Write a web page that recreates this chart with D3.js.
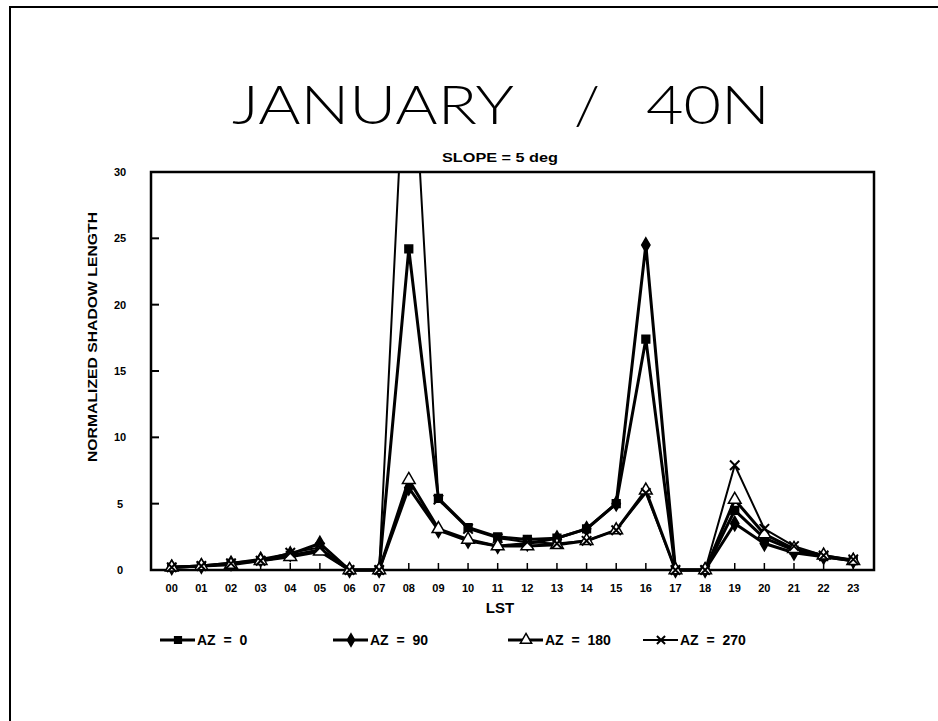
<!DOCTYPE html>
<html>
<head>
<meta charset="utf-8">
<script src="https://cdn.jsdelivr.net/npm/d3@7"></script>
<style>
  body { margin: 0; background: #fff; }
  text { font-family: "Liberation Sans", Arial, sans-serif; fill: #000; }
</style>
</head>
<body>
<div id="chart"></div>
<script>
// hours (LST) and normalized shadow length per slope azimuth
const hours = ['00', '01', '02', '03', '04', '05', '06', '07', '08', '09', '10', '11',
    '12', '13', '14', '15', '16', '17', '18', '19', '20', '21', '22', '23'];

const az0 = [0.2, 0.3, 0.5, 0.7, 1.1, 1.5, 0, 0, 24.2, 5.4, 3.2, 2.5,
    2.3, 2.4, 3.1, 5.0, 17.4, 0, 0, 4.5, 2.4, 1.5, 1.0, 0.7];
const az90 = [0.2, 0.3, 0.5, 0.8, 1.2, 2.0, 0, 0, 6.2, 3.0, 2.2, 1.8,
    2.0, 2.4, 3.1, 5.0, 24.5, 0, 0, 3.5, 2.0, 1.3, 1.0, 0.7];
const az180 = [0.2, 0.3, 0.4, 0.7, 1.0, 1.4, 0, 0, 6.8, 3.1, 2.3, 1.8,
    1.8, 1.9, 2.2, 3.0, 6.0, 0, 0, 5.3, 2.7, 1.6, 1.1, 0.7];
const az270 = [0.2, 0.3, 0.5, 0.7, 1.3, 1.7, 0, 0, 45, 5.3, 3.1, 2.4,
    2.1, 2.0, 2.2, 3.0, 5.8, 0, 0, 7.9, 3.1, 1.8, 1.1, 0.8];

const yTicks = [0, 5, 10, 15, 20, 25, 30];

const series = [
    { name: 'AZ = 0', values: az0, symbol: d3.symbolSquare, fill: '#000', width: 3 },
    { name: 'AZ = 90', values: az90, symbol: d3.symbolDiamond, fill: '#000', width: 3 },
    { name: 'AZ = 180', values: az180, symbol: d3.symbolTriangle, fill: '#fff', width: 3 },
    { name: 'AZ = 270', values: az270, symbol: d3.symbolX || d3.symbolCross, fill: 'none', width: 2 }
];

const WIDTH = 938;
const HEIGHT = 721;
const PLOT_L = 151, PLOT_R = 874, PLOT_T = 172, PLOT_B = 570;

const svg = d3.select('#chart')
    .append('svg')
    .attr('width', WIDTH)
    .attr('height', HEIGHT);

svg.append('rect')
    .attr('width', WIDTH)
    .attr('height', HEIGHT)
    .attr('fill', '#fff');

// page frame (scan edge)
svg.append('path')
    .attr('d', `M10,${HEIGHT} L10,7 L${WIDTH},7`)
    .attr('fill', 'none')
    .attr('stroke', '#000')
    .attr('stroke-width', 2);

// Scales
const xScale = d3.scalePoint()
    .domain(hours)
    .range([PLOT_L, PLOT_R])
    .padding(0.7);

const yScale = d3.scaleLinear()
    .domain([0, 30])
    .range([PLOT_B, PLOT_T]);

// Title, split in three pieces to keep the wide gaps round the slash
const titleParts = [
    { t: 'JANUARY', x: 232, len: 282 },
    { t: '/', x: 574, len: 26 },
    { t: '40N', x: 646, len: 124 }
];
svg.selectAll('.title')
    .data(titleParts)
    .enter()
    .append('text')
    .attr('class', 'title')
    .attr('x', d => d.x)
    .attr('y', 124)
    .attr('textLength', d => d.len)
    .attr('lengthAdjust', 'spacingAndGlyphs')
    .style('font-family', 'Lato, "DejaVu Sans", sans-serif')
    .style('font-weight', 300)
    .style('font-size', '54px')
    .text(d => d.t);

svg.append('text')
    .attr('x', 500)
    .attr('y', 162)
    .attr('text-anchor', 'middle')
    .attr('textLength', 116)
    .attr('lengthAdjust', 'spacingAndGlyphs')
    .style('font-weight', 'bold')
    .style('font-size', '13px')
    .text('SLOPE = 5 deg');

// Plot frame
svg.append('rect')
    .attr('x', PLOT_L)
    .attr('y', PLOT_T)
    .attr('width', PLOT_R - PLOT_L)
    .attr('height', PLOT_B - PLOT_T)
    .attr('fill', 'none')
    .attr('stroke', '#000')
    .attr('stroke-width', 2.5);

// Y axis ticks and labels
svg.selectAll('.ytick')
    .data(yTicks.filter(d => d > 0 && d < 30))
    .enter()
    .append('line')
    .attr('class', 'ytick')
    .attr('x1', PLOT_L)
    .attr('x2', PLOT_L + 8)
    .attr('y1', d => yScale(d))
    .attr('y2', d => yScale(d))
    .attr('stroke', '#000')
    .attr('stroke-width', 2);

svg.selectAll('.ylabel')
    .data(yTicks)
    .enter()
    .append('text')
    .attr('class', 'ylabel')
    .attr('x', 120)
    .attr('y', d => yScale(d) + 4)
    .attr('text-anchor', 'middle')
    .style('font-weight', 'bold')
    .style('font-size', '11px')
    .text(d => d);

svg.append('text')
    .attr('transform', 'translate(97,337) rotate(-90)')
    .attr('text-anchor', 'middle')
    .attr('textLength', 250)
    .attr('lengthAdjust', 'spacingAndGlyphs')
    .style('font-weight', 'bold')
    .style('font-size', '13px')
    .text('NORMALIZED SHADOW LENGTH');

// X axis ticks and labels
svg.selectAll('.xtick')
    .data(hours)
    .enter()
    .append('line')
    .attr('class', 'xtick')
    .attr('x1', d => xScale(d))
    .attr('x2', d => xScale(d))
    .attr('y1', PLOT_B)
    .attr('y2', PLOT_B - 7)
    .attr('stroke', '#000')
    .attr('stroke-width', 1.5);

svg.selectAll('.xlabel')
    .data(hours)
    .enter()
    .append('text')
    .attr('class', 'xlabel')
    .attr('x', d => xScale(d))
    .attr('y', 592)
    .attr('text-anchor', 'middle')
    .style('font-weight', 'bold')
    .style('font-size', '11px')
    .text(d => d);

svg.append('text')
    .attr('x', 500)
    .attr('y', 613)
    .attr('text-anchor', 'middle')
    .style('font-weight', 'bold')
    .style('font-size', '15px')
    .text('LST');

// Lines
svg.append('clipPath')
    .attr('id', 'plot-clip')
    .append('rect')
    .attr('x', PLOT_L)
    .attr('y', PLOT_T)
    .attr('width', PLOT_R - PLOT_L)
    .attr('height', PLOT_B - PLOT_T + 10);

const line = d3.line()
    .x((d, i) => xScale(hours[i]))
    .y(d => yScale(d));

const plot = svg.append('g')
    .attr('clip-path', 'url(#plot-clip)');

series.forEach(s => {
    plot.append('path')
        .datum(s.values)
        .attr('d', line)
        .attr('fill', 'none')
        .attr('stroke', '#000')
        .attr('stroke-width', s.width)
        .attr('stroke-linejoin', 'round');
});

series.forEach(s => {
    const sym = d3.symbol().type(s.symbol).size(s.symbol === d3.symbolTriangle ? 70 : 60);
    plot.selectAll(null)
        .data(s.values)
        .enter()
        .append('path')
        .attr('transform', (d, i) => `translate(${xScale(hours[i])},${yScale(d)})`)
        .attr('d', sym)
        .attr('fill', s.fill)
        .attr('stroke', '#000')
        .attr('stroke-width', s.fill === 'none' ? 2 : 1.5);
});

// Legend
const legendX = [160, 333, 508, 643];
const legend = svg.selectAll('.legend')
    .data(series)
    .enter()
    .append('g')
    .attr('class', 'legend')
    .attr('transform', (d, i) => `translate(${legendX[i]},640)`);

legend.append('line')
    .attr('x1', 0)
    .attr('x2', 35)
    .attr('stroke', '#000')
    .attr('stroke-width', d => d.width);

legend.append('path')
    .attr('transform', 'translate(18,0)')
    .attr('d', d => d3.symbol().type(d.symbol).size(d.symbol === d3.symbolTriangle ? 55 : 45)())
    .attr('fill', d => d.fill)
    .attr('stroke', '#000')
    .attr('stroke-width', d => d.fill === 'none' ? 2 : 1.5);

legend.append('text')
    .attr('x', 37)
    .attr('y', 5)
    .style('font-weight', 'bold')
    .style('font-size', '14px')
    .style('white-space', 'pre')
    .text(d => d.name.replace(/ = /, '  =  '));
</script>
</body>
</html>
